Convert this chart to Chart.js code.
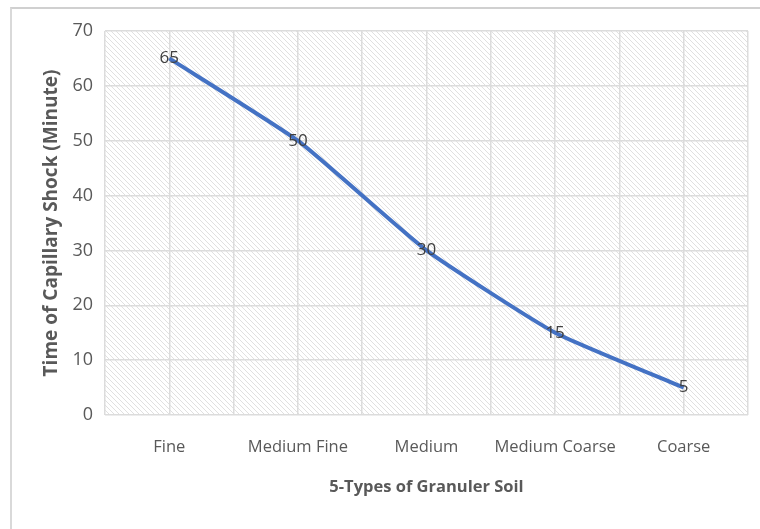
<!DOCTYPE html>
<html>
<head>
<meta charset="utf-8">
<script src="https://cdn.jsdelivr.net/npm/chart.js@4"></script>
<style>
  html, body { margin: 0; padding: 0; background: #fff; }
  #wrap { position: relative; width: 760px; height: 529px; overflow: hidden; }
  #frame { position: absolute; left: 10px; top: 7px; width: 800px; height: 600px;
           border-top: 2px solid #d0d0d0; border-left: 2px solid #d9d9d9; }
  canvas { position: absolute; left: 0; top: 0; }
</style>
</head>
<body>
<div id="wrap">
  <div id="frame"></div>
  <canvas id="soilChart" width="760" height="529"></canvas>
</div>
<script>
const soilTypes = ['Fine', 'Medium Fine', 'Medium', 'Medium Coarse', 'Coarse'];
const shockMinutes = [65, 50, 30, 15, 5];
const yTicks = [0, 10, 20, 30, 40, 50, 60, 70];

const fontFam = '"Open Sans", "Liberation Sans", sans-serif';

// diagonal hatch like the Excel plot area fill
function makeHatch() {
    const c = document.createElement('canvas');
    c.width = 5; c.height = 5;
    const g = c.getContext('2d');
    g.strokeStyle = '#e0e0e0';
    g.lineWidth = 1;
    g.beginPath();
    g.moveTo(0, 0); g.lineTo(5, 5);
    g.moveTo(-1, 4); g.lineTo(1, 6);
    g.moveTo(4, -1); g.lineTo(6, 1);
    g.stroke();
    return g.createPattern(c, 'repeat');
}

const hatchBg = {
    id: 'hatchBg',
    beforeDraw(chart) {
        const a = chart.chartArea;
        const ctx = chart.ctx;
        ctx.save();
        ctx.fillStyle = makeHatch();
        ctx.fillRect(a.left, a.top, a.right - a.left, a.bottom - a.top);
        ctx.restore();
    }
};

const pointLabels = {
    id: 'pointLabels',
    afterDatasetsDraw(chart) {
        const ctx = chart.ctx;
        const meta = chart.getDatasetMeta(0);
        ctx.save();
        ctx.font = '17px ' + fontFam;
        ctx.fillStyle = '#404040';
        ctx.textAlign = 'center';
        ctx.textBaseline = 'middle';
        meta.data.forEach((pt, i) => {
            ctx.fillText(String(shockMinutes[i]), pt.x, pt.y);
        });
        ctx.restore();
    }
};

const ctx = document.getElementById('soilChart').getContext('2d');

const chart = new Chart(ctx, {
    type: 'line',
    data: {
        datasets: [{
            label: 'Time of Capillary Shock',
            data: shockMinutes.map((v, i) => ({ x: i, y: v })),
            borderColor: '#4472C4',
            borderWidth: 4,
            pointRadius: 0,
            tension: 0.15,
            fill: false
        }]
    },
    options: {
        responsive: false,
        animation: false,
        layout: { padding: { left: 36, top: 31, right: 12, bottom: 28 } },
        plugins: { legend: { display: false }, tooltip: { enabled: false } },
        scales: {
            x: {
                type: 'linear',
                min: -0.5,
                max: 4.5,
                afterBuildTicks(scale) {
                    const t = [];
                    for (let v = -0.5; v <= 4.5; v += 0.5) t.push({ value: v });
                    scale.ticks = t;
                },
                afterFit(scale) {
                    scale.height = 529 - 28 - 415;
                    scale.paddingLeft = 0;
                    scale.paddingRight = 0;
                },
                grid: { color: '#dcdcdc', lineWidth: 1.5, drawTicks: false },
                border: { display: false },
                ticks: {
                    autoSkip: false,
                    maxRotation: 0,
                    padding: 22,
                    color: '#595959',
                    font: { family: fontFam, size: 16.5 },
                    callback: v => Number.isInteger(v) ? soilTypes[v] : ''
                },
                title: {
                    display: true,
                    text: '5-Types of Granuler Soil',
                    color: '#595959',
                    font: { family: fontFam, size: 16.5, weight: 'bold' }
                }
            },
            y: {
                min: 0,
                max: 70,
                afterBuildTicks(scale) { scale.ticks = yTicks.map(v => ({ value: v })); },
                afterFit(scale) { scale.width = 105 - 36; },
                grid: { color: '#dcdcdc', lineWidth: 1.5, drawTicks: false },
                border: { display: false },
                ticks: {
                    padding: 12,
                    color: '#595959',
                    font: { family: fontFam, size: 18 }
                },
                title: {
                    display: true,
                    text: 'Time of Capillary Shock (Minute)',
                    color: '#595959',
                    font: { family: fontFam, size: 19, weight: 'bold' }
                }
            }
        }
    },
    plugins: [hatchBg, pointLabels]
});
</script>
</body>
</html>
